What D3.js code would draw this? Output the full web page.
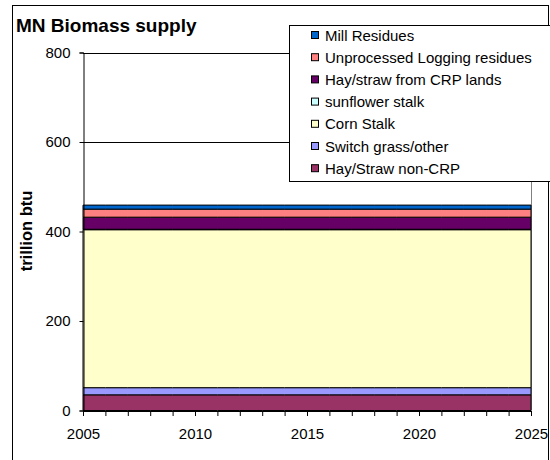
<!DOCTYPE html>
<html>
<head>
<meta charset="utf-8">
<script src="https://cdn.jsdelivr.net/npm/d3@7"></script>
<style>
  html, body { margin: 0; padding: 0; background: #fff; }
  svg { display: block; font-family: "Liberation Sans", Arial, sans-serif; }
</style>
</head>
<body>
<svg id="chart" width="550" height="460"></svg>
<script>
// Years on the horizontal axis
const years = [2005, 2006, 2007, 2008, 2009, 2010, 2011, 2012, 2013, 2014, 2015,
               2016, 2017, 2018, 2019, 2020, 2021, 2022, 2023, 2024, 2025];

// Supply by source, trillion btu (stacked bottom to top)
const hayStrawNonCRP   = [35, 35, 35, 35, 35, 35, 35, 35, 35, 35, 35, 35, 35, 35, 35, 35, 35, 35, 35, 35, 35];
const switchGrass      = [16, 16, 16, 16, 16, 16, 16, 16, 16, 16, 16, 16, 16, 16, 16, 16, 16, 16, 16, 16, 16];
const cornStalk        = [353, 353, 353, 353, 353, 353, 353, 353, 353, 353, 353, 353, 353, 353, 353, 353, 353, 353, 353, 353, 353];
const sunflowerStalk   = [1, 1, 1, 1, 1, 1, 1, 1, 1, 1, 1, 1, 1, 1, 1, 1, 1, 1, 1, 1, 1];
const hayStrawCRP      = [27, 27, 27, 27, 27, 27, 27, 27, 27, 27, 27, 27, 27, 27, 27, 27, 27, 27, 27, 27, 27];
const loggingResidues  = [18, 18, 18, 18, 18, 18, 18, 18, 18, 18, 18, 18, 18, 18, 18, 18, 18, 18, 18, 18, 18];
const millResidues     = [9, 9, 9, 9, 9, 9, 9, 9, 9, 9, 9, 9, 9, 9, 9, 9, 9, 9, 9, 9, 9];

const seriesNames = ["Hay/Straw non-CRP", "Switch grass/other", "Corn Stalk", "sunflower stalk",
                     "Hay/straw from CRP lands", "Unprocessed Logging residues", "Mill Residues"];
const seriesValues = [hayStrawNonCRP, switchGrass, cornStalk, sunflowerStalk,
                      hayStrawCRP, loggingResidues, millResidues];
const seriesColors = ["#993366", "#9999FF", "#FFFFCC", "#CCFFFF", "#660066", "#FF8080", "#0066CC"];

const yTicks = [0, 200, 400, 600, 800];
const xTickLabels = [2005, 2010, 2015, 2020, 2025];

const svg = d3.select("#chart");

// Outer chart frame
svg.append("rect")
  .attr("x", 12.5).attr("y", 5.5).attr("width", 536).attr("height", 460)
  .attr("fill", "#fff").attr("stroke", "#000").attr("stroke-width", 1);

const plot = { left: 83, right: 531, top: 52.5, bottom: 410.5 };

const x = d3.scaleLinear().domain([2005, 2025]).range([plot.left, plot.right]);
const y = d3.scaleLinear().domain([0, 800]).range([plot.bottom, plot.top]);

// Table for the stack layout
const table = years.map((yr, i) => {
  const row = { year: yr };
  seriesNames.forEach((n, k) => { row[n] = seriesValues[k][i]; });
  return row;
});
const stacked = d3.stack().keys(seriesNames)(table);

// Gridlines
svg.append("g").selectAll("line")
  .data(yTicks.filter(t => t > 0))
  .join("line")
  .attr("x1", plot.left).attr("x2", plot.right)
  .attr("y1", d => Math.round(y(d)) + 0.5).attr("y2", d => Math.round(y(d)) + 0.5)
  .attr("stroke", "#000").attr("stroke-width", 1);

// Plot area right border
svg.append("line")
  .attr("x1", plot.right + 0.5).attr("x2", plot.right + 0.5)
  .attr("y1", plot.top).attr("y2", plot.bottom)
  .attr("stroke", "#808080");

// Stacked areas
const area = d3.area()
  .x((d, i) => x(years[i]))
  .y0(d => y(d[0]))
  .y1(d => y(d[1]));

svg.append("g").selectAll("path")
  .data(stacked)
  .join("path")
  .attr("d", area)
  .attr("fill", (d, i) => seriesColors[i])
  .attr("stroke", "#000")
  .attr("stroke-width", 1);

// Y axis
const yAxis = d3.axisLeft(y).tickValues(yTicks).tickSize(4).tickPadding(9);
const gy = svg.append("g").attr("transform", `translate(${plot.left + 0.5},0)`).call(yAxis);
gy.select(".domain").attr("stroke", "#000");
gy.selectAll("text").attr("font-size", 15).attr("fill", "#000")
  .attr("font-family", "Liberation Sans, Arial, sans-serif");

// X axis: a tick every year, labels every five years
const xAxis = d3.axisBottom(x).tickValues(years).tickSize(5).tickPadding(12)
  .tickFormat(d => xTickLabels.includes(d) ? String(d) : "");
const gx = svg.append("g").attr("transform", `translate(0,${plot.bottom + 0.5})`).call(xAxis);
gx.select(".domain").attr("stroke", "#000");
gx.selectAll("text").attr("font-size", 15).attr("fill", "#000")
  .attr("font-family", "Liberation Sans, Arial, sans-serif");

// Title
svg.append("text")
  .attr("x", 16).attr("y", 32)
  .attr("font-size", 19).attr("font-weight", "bold")
  .text("MN Biomass supply");

// Y axis title
svg.append("text")
  .attr("transform", "translate(32,231) rotate(-90)")
  .attr("text-anchor", "middle")
  .attr("font-size", 16.5).attr("font-weight", "bold")
  .text("trillion btu");

// Legend
const legend = svg.append("g");
legend.append("rect")
  .attr("x", 289.5).attr("y", 25.5).attr("width", 262).attr("height", 156)
  .attr("fill", "#fff").attr("stroke", "#000");

const legendOrder = seriesNames.map((n, i) => i).reverse();
const items = legend.selectAll("g.item")
  .data(legendOrder)
  .join("g")
  .attr("class", "item")
  .attr("transform", (d, j) => `translate(0,${35 + j * 22.2})`);
items.append("rect")
  .attr("x", 311.5).attr("y", -3.5).attr("width", 7).attr("height", 7)
  .attr("fill", d => seriesColors[d]).attr("stroke", "#000");
items.append("text")
  .attr("x", 325).attr("y", 5.5)
  .attr("font-size", 15)
  .text(d => seriesNames[d]);
</script>
</body>
</html>
